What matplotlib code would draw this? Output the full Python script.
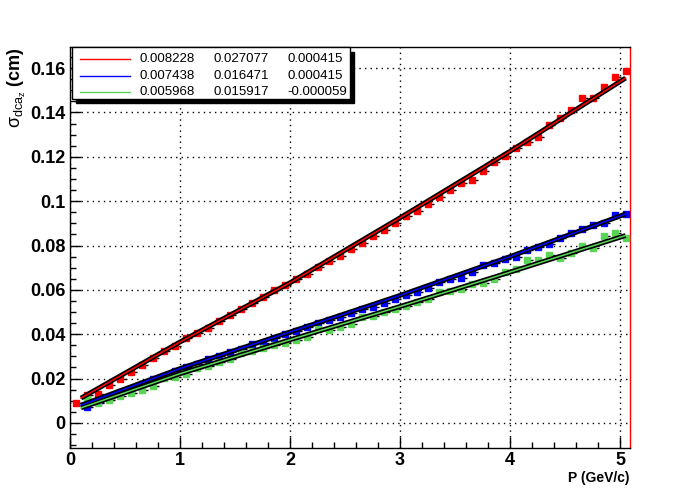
## sigma(dca_z) vs momentum, ROOT style look
import numpy as np
import matplotlib.pyplot as plt
from matplotlib.patches import Rectangle
from matplotlib.lines import Line2D

plt.rcParams['font.family'] = ['Liberation Sans', 'DejaVu Sans']
plt.rcParams['mathtext.fontset'] = 'custom'
plt.rcParams['mathtext.rm'] = 'Liberation Sans'
plt.rcParams['mathtext.it'] = 'Liberation Sans'
plt.rcParams['mathtext.bf'] = 'Liberation Sans:bold'

## data
p_red = np.round(np.arange(0.05, 5.06, 0.1), 2)
sig_red = [0.0091, 0.0125, 0.0130, 0.0170, 0.0198, 0.0230, 0.0261, 0.0291, 0.0324, 0.0347,
           0.0381, 0.0404, 0.0429, 0.0461, 0.0485, 0.0512, 0.0542, 0.0569, 0.0598, 0.0622,
           0.0647, 0.0671, 0.0704, 0.0731, 0.0752, 0.0784, 0.0812, 0.0844, 0.0869, 0.0902,
           0.0933, 0.0957, 0.0986, 0.1018, 0.1050, 0.1082, 0.1095, 0.1135, 0.1175, 0.1204,
           0.1240, 0.1267, 0.1287, 0.1342, 0.1375, 0.1410, 0.1464, 0.1464, 0.1515, 0.1560,
           0.1586]

p_bg = np.round(np.arange(0.15, 5.06, 0.1), 2)
sig_blue = [0.0072, 0.0095, 0.0112, 0.0138, 0.0155, 0.0175, 0.0197, 0.0213, 0.0236,
            0.0251, 0.0266, 0.0287, 0.0302, 0.0320, 0.0335, 0.0355, 0.0362, 0.0381, 0.0401,
            0.0416, 0.0434, 0.0452, 0.0464, 0.0479, 0.0494, 0.0512, 0.0521, 0.0539, 0.0557,
            0.0577, 0.0591, 0.0607, 0.0634, 0.0647, 0.0652, 0.0679, 0.0712, 0.0722, 0.0739,
            0.0749, 0.0779, 0.0794, 0.0809, 0.0832, 0.0857, 0.0874, 0.0892, 0.0902, 0.0937,
            0.0941]
sig_green = [0.0107, 0.0089, 0.0105, 0.0120, 0.0137, 0.0150, 0.0168, 0.0201, 0.0205,
             0.0222, 0.0246, 0.0255, 0.0276, 0.0290, 0.0314, 0.0325, 0.0336, 0.0350, 0.0362,
             0.0374, 0.0389, 0.0422, 0.0419, 0.0434, 0.0446, 0.0479, 0.0483, 0.0499, 0.0512,
             0.0527, 0.0546, 0.0559, 0.0591, 0.0595, 0.0602, 0.0625, 0.0632, 0.0647, 0.0679,
             0.0692, 0.0734, 0.0734, 0.0757, 0.0742, 0.0767, 0.0797, 0.0790, 0.0842, 0.0857,
             0.0832]

## fit curves (read at a few momenta)
p_fit = [0.1, 1.0, 2.0, 3.0, 4.0, 5.05]
fit_red = [0.0112, 0.0365, 0.0632, 0.0925, 0.1225, 0.1555]
fit_blue = [0.0080, 0.0245, 0.0410, 0.0575, 0.0750, 0.0942]
fit_green = [0.0068, 0.0222, 0.0375, 0.0525, 0.0680, 0.0845]

## legend text
leg_rows = [['0.008228', '0.027077', '0.000415'],
            ['0.007438', '0.016471', '0.000415'],
            ['0.005968', '0.015917', '-0.000059']]

c_red = '#ff0000'
c_blue = '#0000ff'
c_green = '#59d454'

fig = plt.figure(figsize=(7, 5), dpi=100)
ax = fig.add_axes([0.1, 0.104, 0.8, 0.802])

series = [(p_red, sig_red, fit_red, c_red),
          (p_bg, sig_blue, fit_blue, c_blue),
          (p_bg, sig_green, fit_green, c_green)]

for px, sy, fy, col in series:
    ax.errorbar(px, sy, xerr=[[0.02] * len(px), [0.06] * len(px)], fmt='s', ms=4.5,
                mfc=col, mec=col, ecolor='black', elinewidth=1, capsize=0, zorder=3)
for px, sy, fy, col in series:
    ax.plot(p_fit, fy, color='black', lw=3.5, zorder=4, solid_capstyle='butt')
    ax.plot(p_fit, fy, color=col, lw=1.1, zorder=5)

ax.set_xlim(0, 5.09)
ax.set_ylim(-0.0113, 0.1695)
ax.set_xticks([0, 1, 2, 3, 4, 5])
ax.set_xticks(np.arange(0, 5.09, 0.2), minor=True)
ax.set_yticks([0, 0.02, 0.04, 0.06, 0.08, 0.1, 0.12, 0.14, 0.16])
ax.set_yticklabels(['0', '0.02', '0.04', '0.06', '0.08', '0.1', '0.12', '0.14', '0.16'])
ax.set_yticks(np.arange(-0.01, 0.1695, 0.005), minor=True)
ax.tick_params(which='both', direction='in', top=False, right=False, labelsize=13, width=1)
ax.tick_params(which='major', length=8)
ax.tick_params(which='minor', length=4)
ax.tick_params(axis='y', pad=3)
ax.tick_params(axis='x', pad=3)
for lab in ax.get_xticklabels() + ax.get_yticklabels():
    lab.set_fontweight('bold')

ax.grid(True, which='major', color='black', linestyle=(0, (1, 3)), lw=1)
for s in ax.spines.values():
    s.set_linewidth(1)
ax.spines['right'].set_color('red')

ax.set_xlabel('P (GeV/c)', fontsize=10, fontweight='bold', loc='right', labelpad=1)
ax.set_ylabel(r'$\sigma_{dca_{z}}$ (cm)', fontsize=13, fontweight='bold', loc='top', labelpad=2)

## legend box with shadow, drawn in figure pixels
W, H = 700, 500
def fx(x):
    return x / W
def fy_(y):
    return 1 - y / H

fig.patches.append(Rectangle((fx(76), fy_(103)), fx(354) - fx(76), fy_(52) - fy_(103),
                             transform=fig.transFigure, facecolor='black', edgecolor='black', zorder=5))
fig.patches.append(Rectangle((fx(72), fy_(99)), fx(350) - fx(72), fy_(47) - fy_(99),
                             transform=fig.transFigure, facecolor='white', edgecolor='black',
                             lw=1, zorder=6))
row_y = [59, 76, 92]
for (vals, col, yy) in zip(leg_rows, [c_red, c_blue, c_green], row_y):
    fig.add_artist(Line2D([fx(80), fx(130)], [fy_(yy), fy_(yy)], color=col, lw=1,
                          transform=fig.transFigure, zorder=7))
    for xx, v in zip([140, 214, 287], vals):
        fig.text(fx(xx), fy_(yy), v, fontsize=9.5, va='center', ha='left', zorder=8)

fig.savefig('out.png', dpi=100)
